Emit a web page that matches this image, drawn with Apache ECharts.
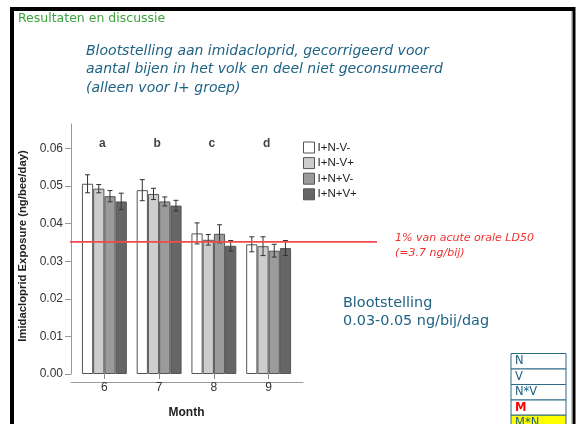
<!DOCTYPE html>
<html>
<head>
<meta charset="utf-8">
<script src="https://cdn.jsdelivr.net/npm/echarts@6/dist/echarts.min.js"></script>
<style>
  html, body { margin: 0; padding: 0; background: #fff; }
  #chart { width: 576px; height: 424px; }
</style>
</head>
<body>
<div id="chart"></div>
<script>
// months on the x axis
const months = ['6', '7', '8', '9'];
const groupNames = ['I+N-V-', 'I+N-V+', 'I+N+V-', 'I+N+V+'];
const groupColors = ['#ffffff', '#cdcdcd', '#9b9b9b', '#666666'];

// mean exposure (ng/bee/day) per group, per month
const meanNmVm = [0.0506, 0.0489, 0.0374, 0.0345];
const meanNmVp = [0.0493, 0.0479, 0.0357, 0.0340];
const meanNpVm = [0.0473, 0.0459, 0.0373, 0.0328];
const meanNpVp = [0.0459, 0.0448, 0.0341, 0.0335];

// error bar half lengths
const errNmVm = [0.0024, 0.0028, 0.0028, 0.0020];
const errNmVp = [0.0011, 0.0015, 0.0014, 0.0025];
const errNpVm = [0.0015, 0.0012, 0.0024, 0.0017];
const errNpVp = [0.0022, 0.0014, 0.0014, 0.0020];

const letters = ['a', 'b', 'c', 'd'];
const yTicks = [0, 0.01, 0.02, 0.03, 0.04, 0.05, 0.06];
const ld50Level = 0.0362;   // 1% of acute oral LD50
const letterLevel = 0.0612;
const yMax = 0.0665;

const means = [meanNmVm, meanNmVp, meanNpVm, meanNpVp];
const errs = [errNmVm, errNmVp, errNpVm, errNpVp];
const barShare = 0.205;

var chart = echarts.init(document.getElementById('chart'));

var errData = [];
means.forEach(function (arr, k) {
  arr.forEach(function (v, i) { errData.push([i, v, errs[k][i], k]); });
});

var barSeries = groupNames.map(function (name, k) {
  return {
    name: name,
    type: 'bar',
    xAxisIndex: 0, yAxisIndex: 0,
    data: means[k],
    barWidth: (barShare * 100) + '%',
    barGap: '0%',
    itemStyle: { color: groupColors[k], borderColor: '#555', borderWidth: 1 },
    z: 2
  };
});

const chartFont = 'Liberation Sans';
const blue = '#1e6284';

var option = {
  backgroundColor: '#ffffff',
  animation: false,
  grid: [
    { left: 77, width: 219, top: 124, bottom: 41.3 },
    { left: 71, width: 232, top: 124, bottom: 41.3 },
    { left: 70, width: 307, top: 124, bottom: 41.3 }
  ],
  legend: {
    data: groupNames,
    orient: 'vertical',
    left: 303, top: 141.5,
    padding: 0,
    itemWidth: 11, itemHeight: 11, itemGap: 3.6,
    icon: 'rect',
    itemStyle: { borderColor: '#555', borderWidth: 1 },
    textStyle: { fontFamily: chartFont, fontSize: 11.5, color: '#222', padding: [0, 0, 0, -2] }
  },
  xAxis: [
    {
      gridIndex: 0, type: 'category', data: months,
      axisLine: { show: false },
      axisTick: { show: true, alignWithLabel: true, length: 5, lineStyle: { color: '#888' } },
      axisLabel: { fontFamily: chartFont, fontSize: 12, color: '#333', margin: 8 },
      name: 'Month', nameLocation: 'middle', nameGap: 33,
      nameTextStyle: { fontFamily: chartFont, fontSize: 12, fontWeight: 'bold', color: '#222' }
    },
    {
      gridIndex: 1, type: 'value', min: 0, max: 1,
      axisLine: { show: true, lineStyle: { color: '#999' } },
      axisTick: { show: false }, axisLabel: { show: false }, splitLine: { show: false }
    },
    {
      gridIndex: 2, type: 'value', min: 0, max: 1, show: false
    }
  ],
  yAxis: [
    {
      gridIndex: 0, type: 'value', min: 0, max: yMax, offset: 6,
      axisLine: { show: true, lineStyle: { color: '#999' } },
      axisTick: { show: true, length: 6, customValues: yTicks, lineStyle: { color: '#999' } },
      axisLabel: {
        customValues: yTicks, margin: 8,
        fontFamily: chartFont, fontSize: 12, color: '#333',
        formatter: function (v) { return v.toFixed(2); }
      },
      splitLine: { show: false },
      name: 'Imidacloprid Exposure (ng/bee/day)',
      nameLocation: 'middle', nameGap: 43,
      nameTextStyle: { fontFamily: chartFont, fontSize: 11.3, fontWeight: 'bold', color: '#222', padding: [0, 0, 0, 6] }
    },
    { gridIndex: 1, type: 'value', min: 0, max: yMax, show: false },
    { gridIndex: 2, type: 'value', min: 0, max: yMax, show: false }
  ],
  series: barSeries.concat([
    {
      type: 'custom',
      xAxisIndex: 0, yAxisIndex: 0,
      data: errData,
      z: 4,
      renderItem: function (params, api) {
        var cat = api.value(0), v = api.value(1), e = api.value(2), k = api.value(3);
        var band = api.size([1, 0])[0];
        var x = api.coord([cat, v])[0] + (k - 1.5) * band * barShare;
        var hi = api.coord([cat, v + e])[1];
        var lo = api.coord([cat, v - e])[1];
        var st = { stroke: '#333', lineWidth: 1 };
        return {
          type: 'group',
          children: [
            { type: 'line', shape: { x1: x, y1: hi, x2: x, y2: lo }, style: st },
            { type: 'line', shape: { x1: x - 2.5, y1: hi, x2: x + 2.5, y2: hi }, style: st },
            { type: 'line', shape: { x1: x - 2.5, y1: lo, x2: x + 2.5, y2: lo }, style: st }
          ]
        };
      }
    },
    {
      type: 'scatter',
      xAxisIndex: 0, yAxisIndex: 0,
      symbolSize: 0,
      data: letters.map(function (l, i) { return { value: [i, letterLevel], name: l }; }),
      label: {
        show: true, position: 'inside', formatter: '{b}',
        fontFamily: chartFont, fontSize: 12, fontWeight: 'bold', color: '#111', offset: [-2, 0]
      },
      silent: true
    },
    {
      type: 'line',
      xAxisIndex: 2, yAxisIndex: 2,
      data: [[0, ld50Level], [1, ld50Level]],
      symbol: 'none',
      lineStyle: { color: '#f24a4a', width: 1.6 },
      z: 6, silent: true
    }
  ]),
  graphic: [
    // slide frame
    { type: 'rect', shape: { x: 10, y: 7, width: 565, height: 4 }, style: { fill: '#000' } },
    { type: 'rect', shape: { x: 10, y: 7, width: 4, height: 420 }, style: { fill: '#000' } },
    { type: 'rect', shape: { x: 572.5, y: 7, width: 3, height: 420 }, style: { fill: '#000' } },
    { type: 'rect', shape: { x: 571, y: 11, width: 1, height: 416 }, style: { fill: '#c4c4c4' } },
    // slide texts
    { type: 'text', left: 18, top: 12, style: { text: 'Resultaten en discussie', fill: '#3ca23c', font: '12.5px "DejaVu Sans"' } },
    { type: 'text', left: 86, top: 42, style: {
        text: 'Blootstelling aan imidacloprid, gecorrigeerd voor\naantal bijen in het volk en deel niet geconsumeerd\n(alleen voor I+ groep)',
        fill: blue, font: 'italic 14px "DejaVu Sans"', lineHeight: 18.5 } },
    { type: 'text', left: 395, top: 230, style: {
        text: '1% van acute orale LD50\n(=3.7 ng/bij)', fill: '#f03030', font: 'italic 11px "DejaVu Sans"', lineHeight: 15.5 } },
    { type: 'text', left: 343, top: 294, style: {
        text: 'Blootstelling\n0.03-0.05 ng/bij/dag', fill: blue, font: '14.4px "DejaVu Sans"', lineHeight: 18 } },
    // factor table
    { type: 'rect', shape: { x: 511, y: 415, width: 55, height: 12 }, style: { fill: '#ffff00', stroke: '#2d6b88', lineWidth: 1 } },
    { type: 'rect', shape: { x: 511, y: 353.5, width: 55, height: 15.5 }, style: { fill: '#fff', stroke: '#2d6b88', lineWidth: 1 } },
    { type: 'rect', shape: { x: 511, y: 369, width: 55, height: 15.5 }, style: { fill: '#fff', stroke: '#2d6b88', lineWidth: 1 } },
    { type: 'rect', shape: { x: 511, y: 384.5, width: 55, height: 15.5 }, style: { fill: '#fff', stroke: '#2d6b88', lineWidth: 1 } },
    { type: 'rect', shape: { x: 511, y: 400, width: 55, height: 15 }, style: { fill: '#fff', stroke: '#2d6b88', lineWidth: 1 } },
    { type: 'text', left: 515, top: 355.5, style: { text: 'N', fill: blue, font: '11.5px "DejaVu Sans"' } },
    { type: 'text', left: 515, top: 371, style: { text: 'V', fill: blue, font: '11.5px "DejaVu Sans"' } },
    { type: 'text', left: 515, top: 386.5, style: { text: 'N*V', fill: blue, font: '11.5px "DejaVu Sans"' } },
    { type: 'text', left: 515, top: 402, style: { text: 'M', fill: '#ff0000', font: 'bold 11.5px "DejaVu Sans"' } },
    { type: 'text', left: 515, top: 417, style: { text: 'M*N', fill: blue, font: '11.5px "DejaVu Sans"' } }
  ]
};

chart.setOption(option);
</script>
</body>
</html>
